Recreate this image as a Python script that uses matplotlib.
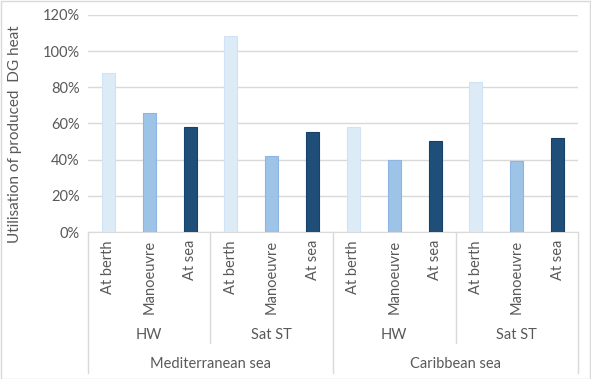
import matplotlib
matplotlib.use('Agg')
import matplotlib.pyplot as plt
import matplotlib.transforms as mtransforms
from matplotlib.patches import Rectangle
from matplotlib.ticker import MultipleLocator, PercentFormatter

# data
seas = ['Mediterranean sea', 'Caribbean sea']
setups = ['HW', 'Sat ST']
modes = ['At berth', 'Manoeuvre', 'At sea']
values = [0.877, 0.656, 0.578,   # Med, HW
          1.085, 0.420, 0.551,   # Med, Sat ST
          0.582, 0.400, 0.501,   # Carib, HW
          0.829, 0.392, 0.519]   # Carib, Sat ST
mode_colors = ['#DDEBF7', '#9DC3E6', '#1F4E79']
edge_colors = ['#D0E2F3', '#8DB4E2', '#17406A']

plt.rcParams['font.family'] = ['Lato', 'DejaVu Sans']
txt = '#595959'
fs = 10.5

fig = plt.figure(figsize=(5.91, 3.79), dpi=100)
W, H = 591.0, 379.0
ax = fig.add_axes([88 / W, (H - 232) / H, (578 - 88) / W, (232 - 15) / H])

n = len(values)
xs = list(range(n))
cols = [mode_colors[i % 3] for i in xs]
edges = [edge_colors[i % 3] for i in xs]
ax.bar(xs, values, width=0.32, color=cols, edgecolor=edges, linewidth=0.8, zorder=3)

ax.set_xlim(-0.5, n - 0.5)
ax.set_ylim(0, 1.2)
ax.yaxis.set_major_locator(MultipleLocator(0.2))
ax.yaxis.set_major_formatter(PercentFormatter(1.0, decimals=0))
ax.grid(axis='y', color='#D9D9D9', linewidth=1, zorder=0)
for s in ['left', 'right', 'top']:
    ax.spines[s].set_visible(False)
ax.spines['bottom'].set_color('#D9D9D9')
ax.tick_params(axis='y', length=0, labelsize=fs, labelcolor=txt, pad=6)
ax.set_xticks([])
ax.set_ylabel('Utilisation of produced  DG heat', fontsize=11, color=txt, labelpad=8)
ax.yaxis.set_label_coords(-0.135, 0.45)

def fy(px):
    return (H - px) / H

tr = mtransforms.blended_transform_factory(ax.transData, fig.transFigure)
line_kw = dict(color='#D9D9D9', linewidth=1, transform=tr, clip_on=False)

# category labels
for i in xs:
    ax.text(i, fy(240), modes[i % 3], rotation=90, ha='center', va='top',
            fontsize=fs, color=txt, transform=tr)

# setup labels
for g in range(4):
    ax.text(g * 3 + 1, fy(335), setups[g % 2], ha='center', va='center',
            fontsize=fs, color=txt, transform=tr)

# sea labels
for k in range(2):
    ax.text(k * 6 + 2.5, fy(364), seas[k], ha='center', va='center',
            fontsize=fs, color=txt, transform=tr)

# separators
for xb in [2.5, 8.5]:
    ax.plot([xb, xb], [fy(232), fy(343)], **line_kw)
for xb in [-0.5, 5.5, n - 0.5]:
    ax.plot([xb, xb], [fy(232), fy(373)], **line_kw)

# chart border
fig.patches.append(Rectangle((0.5 / W, 0.5 / H), 1 - 1.5 / W, 1 - 1.5 / H,
                             transform=fig.transFigure, fill=False,
                             edgecolor='#D9D9D9', linewidth=1))

fig.savefig('out.png', dpi=100)
